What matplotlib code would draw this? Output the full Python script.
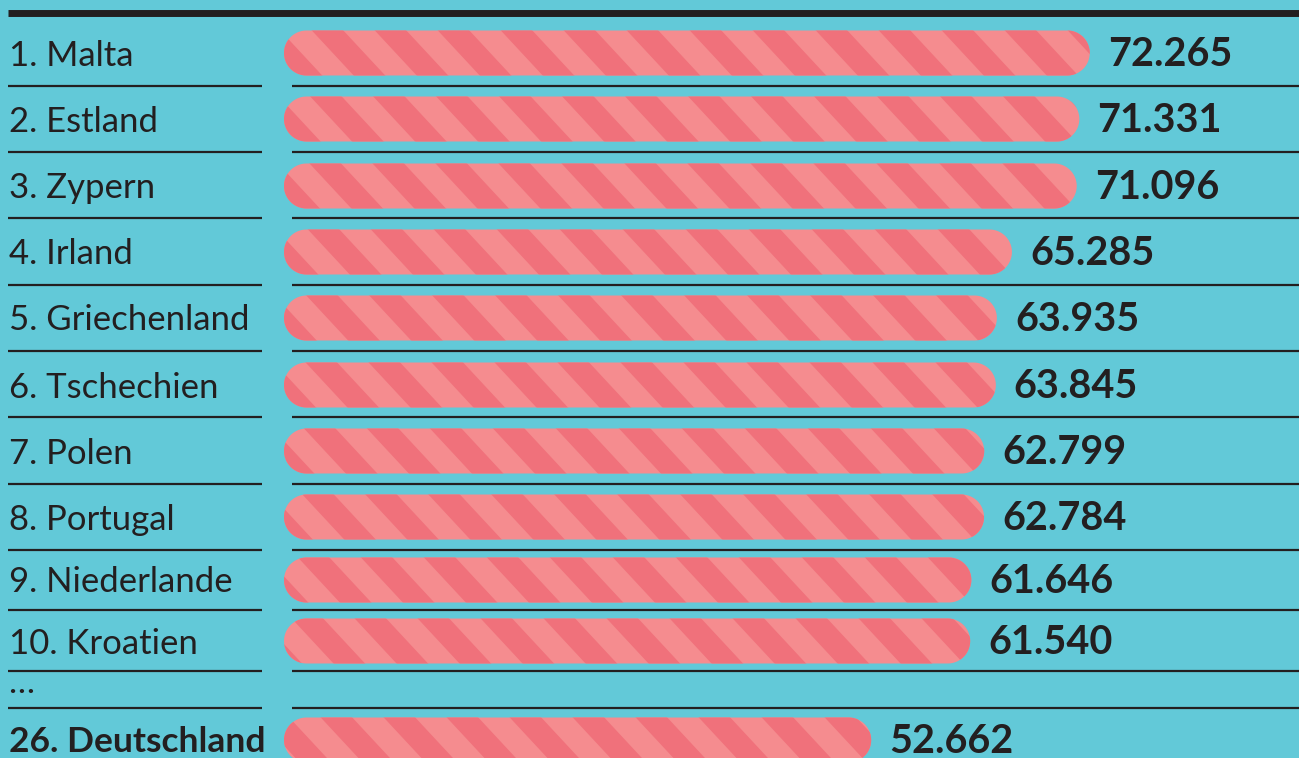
import numpy as np
import matplotlib
matplotlib.use("Agg")
import matplotlib.pyplot as plt
from matplotlib.patches import Polygon
from matplotlib.collections import PolyCollection

labels = ["1. Malta", "2. Estland", "3. Zypern", "4. Irland", "5. Griechenland",
          "6. Tschechien", "7. Polen", "8. Portugal", "9. Niederlande",
          "10. Kroatien", "26. Deutschland"]
values = [72.265, 71.331, 71.096, 65.285, 63.935, 63.845, 62.799, 62.784,
          61.646, 61.540, 52.662]
value_labels = ["72.265", "71.331", "71.096", "65.285", "63.935", "63.845",
                "62.799", "62.784", "61.646", "61.540", "52.662"]

# layout (pixels, top = 0)
W, H = 1299, 758
row_y = [53, 119, 186, 252, 318, 385, 451, 517, 580, 641, 740]
dots_y = 688
sep_y = [86, 152, 218, 285, 351, 417, 484, 550, 610, 671, 708]
bar_h = 45
x0 = 284          # pixel where value 0 sits
scale = 11.15     # pixels per unit
period = 63       # stripe period in pixels
slant = 0.93      # horizontal shift per pixel of height

bg = "#62C9D8"
dark = "#F0717B"
light = "#F58C8F"
ink = "#231F20"

plt.rcParams['font.family'] = ['Lato', 'DejaVu Sans']

fig = plt.figure(figsize=(W / 100, H / 100), dpi=100)
fig.patch.set_facecolor(bg)
ax = fig.add_axes([0, 0, 1, 1])
ax.set_facecolor(bg)
xmin, xmax = -x0 / scale, (W - x0) / scale
ax.set_xlim(xmin, xmax)
ax.set_ylim(H, 0)
ax.axis('off')

def px(x):
    return (x - x0) / scale

def capsule(length, yc):
    # capsule outline in data units, round ends as true half circles in pixels
    r = bar_h / 2
    rx = r / scale
    t = np.linspace(-np.pi / 2, np.pi / 2, 40)
    right = np.column_stack([length - rx + rx * np.cos(t), yc + r * np.sin(t)])
    left = np.column_stack([rx - rx * np.cos(t), yc - r * np.sin(t)])
    return np.vstack([right, left])

def stripe_polys(yc):
    yt, yb = yc - bar_h / 2 - 2, yc + bar_h / 2 + 2
    polys = []
    k0 = int(-slant * yb // period) - 2
    k1 = int((W - slant * yt) // period) + 2
    for k in range(k0, k1):
        a = k * period + period / 2
        b = a + period / 2
        polys.append([(px(a + slant * yt), yt), (px(b + slant * yt), yt),
                      (px(b + slant * yb), yb), (px(a + slant * yb), yb)])
    return polys

# top rule
ax.plot([px(8), xmax], [12.5, 12.5], color=ink, lw=5, solid_capstyle='butt')
for y in sep_y:
    ax.plot([px(8), px(262)], [y, y], color=ink, lw=1.6, solid_capstyle='butt')
    ax.plot([px(292), xmax], [y, y], color=ink, lw=1.6, solid_capstyle='butt')

for lab, v, vl, y in zip(labels, values, value_labels, row_y):
    bold = lab.startswith("26")
    patch = Polygon(capsule(v, y), closed=True, facecolor=light,
                    edgecolor='none', zorder=1)
    ax.add_patch(patch)
    pc = PolyCollection(stripe_polys(y), facecolors=dark, edgecolors='none',
                        zorder=2)
    ax.add_collection(pc)
    pc.set_clip_path(patch)
    ax.text(px(9), y + 12.5, lab, fontsize=25.5 if bold else 25, color=ink,
            va='baseline', ha='left', fontweight='bold' if bold else 'normal')
    ax.text(v + 18 / scale, y + 13, vl, fontsize=28.5, color=ink,
            va='baseline', ha='left', fontweight='bold')

ax.text(px(8), dots_y + 5, "\u2026", fontsize=25, color=ink, va='baseline',
        ha='left')
ax.set_xlim(xmin, xmax)
ax.set_ylim(H, 0)

fig.savefig("out.png", dpi=100, facecolor=bg)
